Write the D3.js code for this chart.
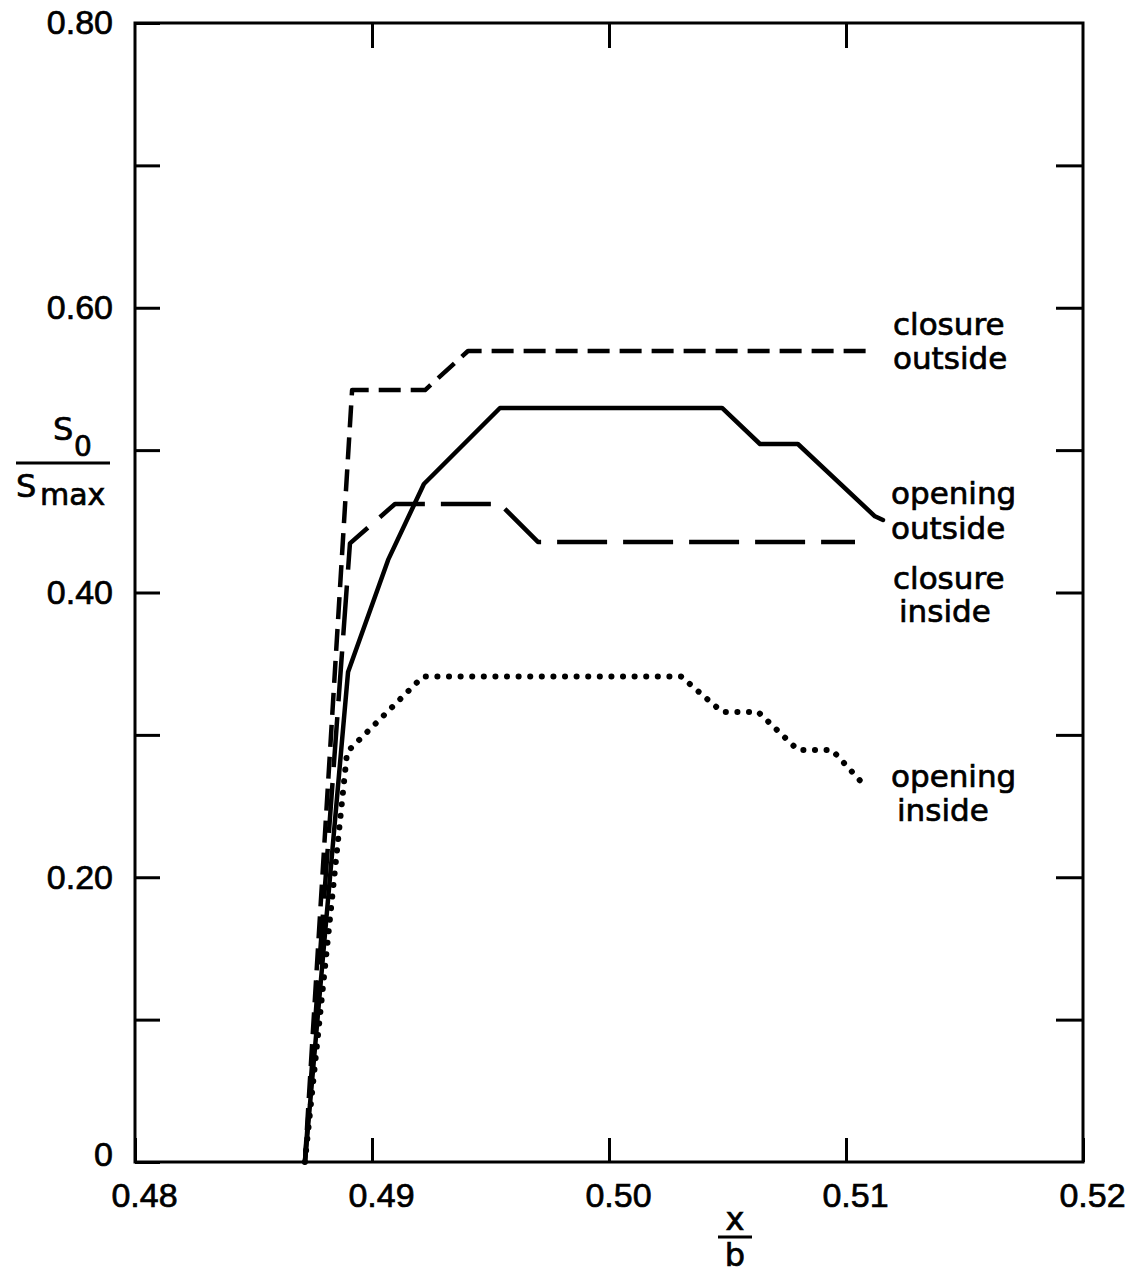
<!DOCTYPE html>
<html>
<head>
<meta charset="utf-8">
<script src="https://cdn.jsdelivr.net/npm/d3@7"></script>
<style>
  html, body { margin: 0; padding: 0; background: #fff; }
  svg { display: block; }
  text { stroke: #000; stroke-width: 0.7px; }
</style>
</head>
<body>
<svg id="chart" width="1133" height="1273"></svg>
<script>
// ---- data ----
const xTickValues = [0.48, 0.49, 0.50, 0.51, 0.52];
const xTickLabels = ["0.48", "0.49", "0.50", "0.51", "0.52"];
const yTickValues = [0, 0.1, 0.2, 0.3, 0.4, 0.5, 0.6, 0.7, 0.8];
const yTickLabels = ["0", "", "0.20", "", "0.40", "", "0.60", "", "0.80"];

const closureOutsideX = [0.48717, 0.48916, 0.49224, 0.49405, 0.51122];
const closureOutsideY = [0, 0.5422, 0.5422, 0.5696, 0.5696];

const openingOutsideX = [0.48717, 0.48899, 0.49068, 0.49219, 0.4954, 0.50477, 0.50637, 0.50797, 0.51122, 0.51156];
const openingOutsideY = [0, 0.3442, 0.4229, 0.4762, 0.5296, 0.5296, 0.5043, 0.5043, 0.4535, 0.4509];

const closureInsideX = [0.48717, 0.48907, 0.49097, 0.4954, 0.4970, 0.51038];
const closureInsideY = [0, 0.4345, 0.4622, 0.4622, 0.4355, 0.4355];

const openingInsideX = [0.48717, 0.48895, 0.49215, 0.50304, 0.50477, 0.50629, 0.50797, 0.50941, 0.51084];
const openingInsideY = [0, 0.288, 0.341, 0.341, 0.3161, 0.3161, 0.2894, 0.2894, 0.2634];

const seriesNames = ["closure outside", "opening outside", "closure inside", "opening inside"];
const labelLines = [["closure", "outside"], ["opening", "outside"], ["closure", "inside"], ["opening", "inside"]];

// ---- layout ----
const svg = d3.select("#chart");
const mLeft = 135, mRight = 1083, mTop = 23, mBottom = 1162;
const x = d3.scaleLinear().domain([0.48, 0.52]).range([mLeft, mRight]);
const y = d3.scaleLinear().domain([0, 0.8]).range([mBottom, mTop]);

const numFont = "'Liberation Sans', Arial, sans-serif";
const textFont = "'DejaVu Sans', sans-serif";

// frame
svg.append("rect")
  .attr("x", mLeft).attr("y", mTop)
  .attr("width", mRight - mLeft).attr("height", mBottom - mTop)
  .attr("fill", "none").attr("stroke", "#000").attr("stroke-width", 3);

function styleAxis(g) {
  g.select(".domain").remove();
  g.selectAll(".tick line").attr("stroke", "#000").attr("stroke-width", 3);
}

// bottom axis
const gB = svg.append("g").attr("transform", `translate(0,${mBottom})`)
  .call(d3.axisBottom(x).tickValues(xTickValues)
    .tickFormat((d, i) => xTickLabels[i]).tickSize(-24).tickSizeOuter(0).tickPadding(21));
styleAxis(gB);
gB.selectAll(".tick text").attr("font-family", numFont).attr("font-size", 34)
  .attr("fill", "#000").attr("dx", 9);

// top axis (ticks only)
const gT = svg.append("g").attr("transform", `translate(0,${mTop})`)
  .call(d3.axisTop(x).tickValues([0.49, 0.50, 0.51]).tickFormat("").tickSize(-25).tickSizeOuter(0));
styleAxis(gT);

// left axis
const gL = svg.append("g").attr("transform", `translate(${mLeft},0)`)
  .call(d3.axisLeft(y).tickValues(yTickValues)
    .tickFormat((d, i) => yTickLabels[i]).tickSize(-25).tickSizeOuter(0).tickPadding(22));
styleAxis(gL);
gL.selectAll(".tick text").attr("font-family", numFont).attr("font-size", 34).attr("fill", "#000");
gL.selectAll(".tick text").filter(d => d === 0).attr("dy", "0.1em");

// right axis (ticks only)
const gR = svg.append("g").attr("transform", `translate(${mRight},0)`)
  .call(d3.axisRight(y).tickValues(yTickValues.slice(1, 8)).tickFormat("").tickSize(-27).tickSizeOuter(0));
styleAxis(gR);

// ---- series ----
const line = d3.line().x(d => x(d[0])).y(d => y(d[1]));
function pts(xs, ys) { return xs.map((v, i) => [v, ys[i]]); }

const series = [
  { pts: pts(closureOutsideX, closureOutsideY), dash: "22 10", cap: "butt", w: 4.5 },
  { pts: pts(openingOutsideX, openingOutsideY), dash: null, cap: "round", w: 4.5 },
  { pts: pts(closureInsideX, closureInsideY), dash: "50 16", cap: "butt", w: 4.5 },
  { pts: pts(openingInsideX, openingInsideY), dash: "0.1 11.5", cap: "round", w: 6 }
];

series.forEach((s, i) => {
  const p = svg.append("path")
    .datum(s.pts)
    .attr("d", line)
    .attr("fill", "none")
    .attr("stroke", "#000")
    .attr("stroke-width", s.w)
    .attr("stroke-linejoin", "round")
    .attr("stroke-linecap", s.cap)
    .attr("class", "series")
    .attr("data-name", seriesNames[i]);
  if (s.dash) p.attr("stroke-dasharray", s.dash);
});

// ---- curve labels ----
const labelPos = [
  { x: 893, y1: 335, y2: 369 },
  { x: 891, y1: 504, y2: 539 },
  { x: 893, y1: 589, y2: 622 },
  { x: 891, y1: 787, y2: 821 }
];
labelLines.forEach((lines, i) => {
  const t = svg.append("text").attr("font-family", textFont).attr("font-size", 31).attr("fill", "#000");
  t.append("tspan").attr("x", labelPos[i].x).attr("y", labelPos[i].y1).text(lines[0]);
  t.append("tspan").attr("x", labelPos[i].x + (lines[1] === "inside" ? 6 : 0)).attr("y", labelPos[i].y2).text(lines[1]);
});

// ---- axis titles ----
// y: S0 / Smax
const yt = svg.append("g").attr("font-family", textFont).attr("fill", "#000");
yt.append("text").attr("x", 53).attr("y", 440).attr("font-size", 32).text("S");
yt.append("text").attr("x", 74).attr("y", 456).attr("font-size", 28).text("0");
yt.append("line").attr("x1", 16).attr("x2", 110).attr("y1", 463).attr("y2", 463)
  .attr("stroke", "#000").attr("stroke-width", 3);
yt.append("text").attr("x", 16).attr("y", 497).attr("font-size", 32).text("S");
yt.append("text").attr("x", 40).attr("y", 505).attr("font-size", 30).text("max");

// x: x / b
const xt = svg.append("g").attr("font-family", textFont).attr("fill", "#000").attr("text-anchor", "middle");
xt.append("text").attr("x", 735).attr("y", 1230).attr("font-size", 32).text("x");
xt.append("line").attr("x1", 718).attr("x2", 752).attr("y1", 1237).attr("y2", 1237)
  .attr("stroke", "#000").attr("stroke-width", 3);
xt.append("text").attr("x", 735).attr("y", 1266).attr("font-size", 32).text("b");
</script>
</body>
</html>
